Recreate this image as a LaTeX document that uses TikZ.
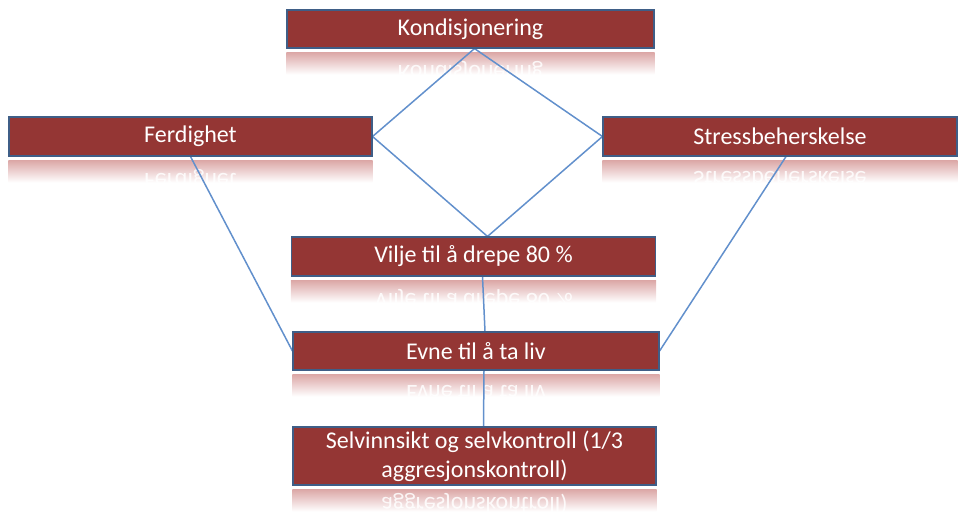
\documentclass[tikz,border=0pt]{standalone}
\usepackage{fontspec}
\setmainfont{Carlito}
\usetikzlibrary{calc}
\definecolor{boxred}{HTML}{943634}
\definecolor{boxedge}{HTML}{3F5E87}
\definecolor{linkblue}{HTML}{6290CC}
\definecolor{reflpink}{HTML}{DCA8A7}
\pgfdeclarelayer{refl}
\pgfdeclarelayer{links}
\pgfsetlayers{refl,links,main}
\newcommand\boxfont{\fontsize{24}{29}\selectfont}
\newcommand\myreflect[3]{%
  \begin{pgfonlayer}{refl}
  \begin{scope}
    \clip ($(#1.south west)+(0,4)$) rectangle ($(#1.south east)+(0,26)$);
    \shade[top color=reflpink, bottom color=white] ($(#1.south west)+(0,4)$) rectangle ($(#1.south east)+(0,26)$);
    \node[text=white, opacity=0.85, yscale=-1, font=\boxfont, align=center, inner sep=0pt] at ($(#1.south)+(0,#3)$) {#2};
  \end{scope}
  \end{pgfonlayer}}
\begin{document}
\begin{tikzpicture}[x=1pt,y=-1pt,
  box/.style={draw=boxedge, line width=1.1pt, fill=boxred, text=white, font=\boxfont, inner sep=0pt, align=center},
  link/.style={draw=linkblue, line width=1.5pt}]
\useasboundingbox (0,0) rectangle (958,517);
\node[box, minimum width=367pt, minimum height=38pt] (K) at (470.5,29) {Kondisjonering};
\node[box, minimum width=363pt, minimum height=39pt] (F) at (190.5,136.5) {Ferdighet};
\node[box, minimum width=354pt, minimum height=39pt] (S) at (780,136.5) {Stressbeherskelse};
\node[box, minimum width=364pt, minimum height=39pt] (V) at (473.5,256.5) {Vilje til å drepe 80 \%};
\node[box, minimum width=366pt, minimum height=38pt] (E) at (476,351) {Evne til å ta liv};
\node[box, minimum width=363pt, minimum height=58pt] (Sel) at (474.5,456) {Selvinnsikt og selvkontroll (1/3\\aggresjonskontroll)};
\myreflect{K}{Kondisjonering}{23}
\myreflect{F}{Ferdighet}{23.5}
\myreflect{S}{Stressbeherskelse}{23.5}
\myreflect{V}{Vilje til å drepe 80 \%}{23.5}
\myreflect{E}{Evne til å ta liv}{23}
\myreflect{Sel}{Selvinnsikt og selvkontroll (1/3\\aggresjonskontroll)}{33}
\coordinate (Ks) at ($(K.south)+(4,0)$);
\coordinate (Vn) at ($(V.north)+(14,0)$);
\coordinate (Vs) at ($(V.south)+(9,0)$);
\coordinate (En) at ($(E.north)+(9,0)$);
\coordinate (Es) at ($(E.south)+(8,0)$);
\coordinate (Seln) at ($(Sel.north)+(9,0)$);
\coordinate (Ss) at ($(S.south)+(6,0)$);
\begin{pgfonlayer}{links}
\draw[link] (Ks) -- (F.east);
\draw[link] (Ks) -- (S.west);
\draw[link] (F.east) -- (Vn);
\draw[link] (S.west) -- (Vn);
\draw[link] (F.south) -- (E.west);
\draw[link] (Ss) -- (E.east);
\draw[link] (Vs) -- (En);
\draw[link] (Es) -- (Seln);
\end{pgfonlayer}
\end{tikzpicture}
\end{document}
